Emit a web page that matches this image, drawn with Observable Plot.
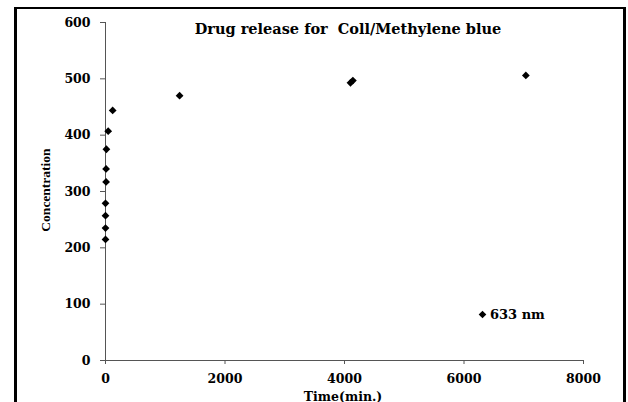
<!DOCTYPE html>
<html><head><meta charset="utf-8">
<script src="https://cdn.jsdelivr.net/npm/d3@7"></script>
<script src="https://cdn.jsdelivr.net/npm/@observablehq/plot@0.6"></script>
<style>
body{margin:0;background:#fff;}
#wrap{position:relative;width:628px;height:402px;overflow:hidden;background:#fff;font-family:"DejaVu Serif",serif;font-weight:bold;color:#000;}
#chart{position:absolute;left:0;top:0;}
#border{position:absolute;left:14px;top:7px;width:606px;height:430px;border:3px solid #000;border-top-width:2px;pointer-events:none;}
#title{position:absolute;top:20px;left:348px;transform:translateX(-50%);white-space:pre;font-size:14.5px;}
#legend{position:absolute;left:478px;top:307px;font-size:13px;white-space:pre;display:flex;align-items:center;}
#legend svg{margin-right:3px;}
#ylab{position:absolute;left:46px;top:190px;transform:translate(-50%,-50%) rotate(-90deg);font-size:13.5px;font-family:"Liberation Serif",serif;white-space:pre;}
#xlab{position:absolute;left:343px;top:396px;transform:translate(-50%,-50%);font-size:12.5px;white-space:pre;}
</style></head>
<body>
<div id="wrap">
  <div id="chart"></div>
  <div id="title"></div>
  <div id="ylab"></div>
  <div id="xlab"></div>
  <div id="legend"></div>
  <div id="border"></div>
</div>
<script>
const titleText = "Drug release for  Coll/Methylene blue";
const xLabel = "Time(min.)";
const yLabel = "Concentration";
const seriesName = "633 nm";
const timeMin = [0, 0, 0, 0, 10, 10, 15, 45, 120, 1240, 4100, 4140, 7035];
const concentration = [215, 235, 257, 279, 317, 340, 375, 407, 444, 470, 493, 497, 506];
const xTicks = [0, 2000, 4000, 6000, 8000];
const yTicks = [0, 100, 200, 300, 400, 500, 600];

const data = timeMin.map((t, i) => ({time: t, conc: concentration[i]}));

const plot = Plot.plot({
  width: 628,
  height: 402,
  marginLeft: 105,
  marginRight: 45,
  marginTop: 22,
  marginBottom: 42,
  style: {fontFamily: '"DejaVu Serif", serif', fontWeight: "bold", fontSize: "12px", color: "#000", background: "transparent"},
  x: {domain: [0, 8000]},
  y: {domain: [0, 600]},
  marks: [
    Plot.axisX({ticks: xTicks, tickFormat: d => String(d), tickSize: 4, tickPadding: 10, label: null, stroke: "#555", fill: "#000", fontSize: 12.5}),
    Plot.axisY({ticks: yTicks, tickFormat: d => String(d), tickSize: 5, tickPadding: 10, label: null, stroke: "#555", fill: "#000", fontSize: 12.5}),
    Plot.ruleX([0], {stroke: "#555"}),
    Plot.ruleY([0], {stroke: "#555"}),
    Plot.dot(data, {x: "time", y: "conc", symbol: "diamond2", r: 3.5, fill: "#000", stroke: "none"})
  ]
});
document.getElementById("chart").appendChild(plot);
document.getElementById("title").textContent = titleText;
document.getElementById("xlab").textContent = xLabel;
document.getElementById("ylab").textContent = yLabel;
document.getElementById("legend").innerHTML = '<svg width="9" height="9" viewBox="-4.5 -4.5 9 9"><path d="M0,-3.8L3.8,0L0,3.8L-3.8,0Z" fill="#000"/></svg><span></span>';
document.querySelector("#legend span").textContent = seriesName;
</script>
</body></html>
